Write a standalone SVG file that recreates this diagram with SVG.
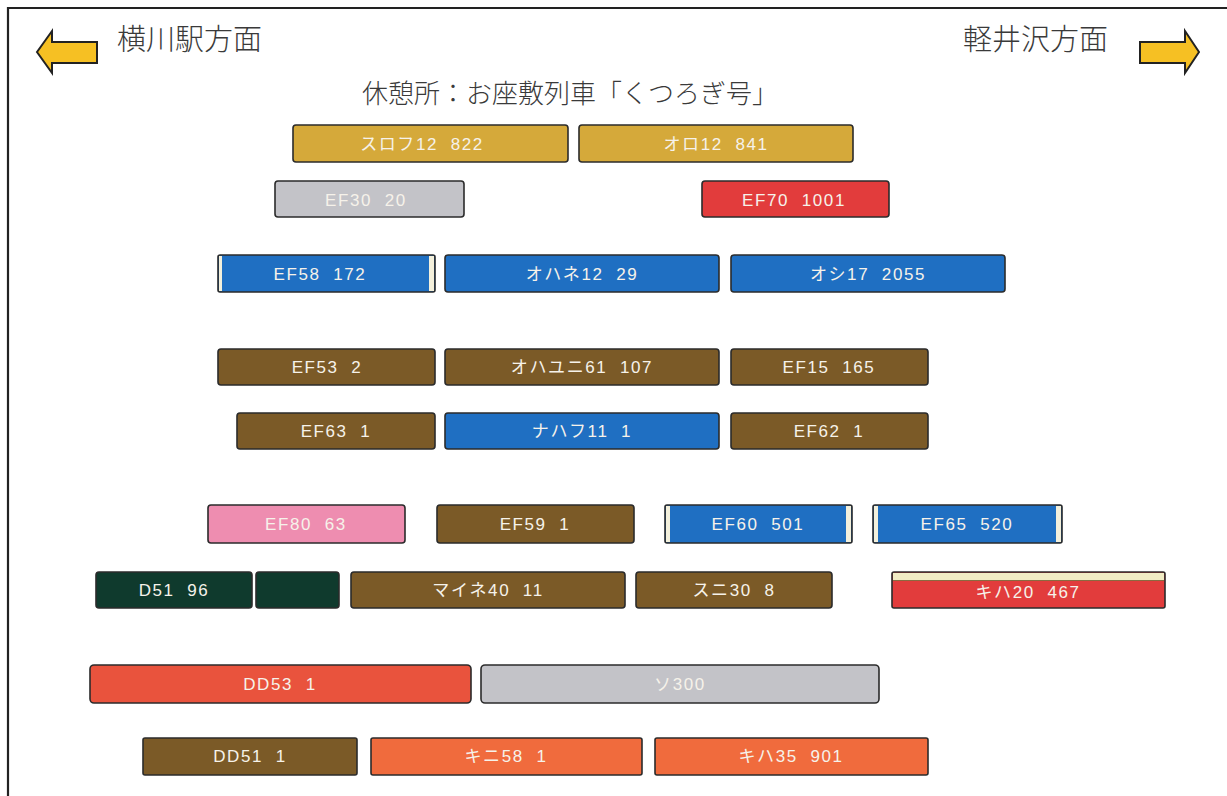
<svg xmlns="http://www.w3.org/2000/svg" width="1227" height="796" viewBox="0 0 1227 796">
<defs>
<style>
.car{stroke:#2b2b2b;stroke-width:1.6}
.lbl{font-family:"Liberation Sans","Noto Sans CJK JP",sans-serif;font-size:17px;fill:#f6f2ea;text-anchor:middle;letter-spacing:1.6px;white-space:pre}
.gold{fill:#d5a93a}.gray{fill:#c3c3c8}.red{fill:#e23c3c}.blue{fill:#1f6fc2}.brown{fill:#7b5a27}
.pink{fill:#ee8db0}.green{fill:#0f3a2d}.orred{fill:#e9533d}.orange{fill:#f06b3d}
.head{font-family:"Liberation Serif","Noto Sans CJK JP",serif;fill:#3a3a3a;font-size:29px;font-weight:300}
.arrow{fill:#f6c023;stroke:#222;stroke-width:2;stroke-linejoin:miter}
.end{fill:#f3f0dc}
</style>
</defs>
<rect width="1227" height="796" fill="#ffffff"/>
<path d="M8 796 V8 H1227" fill="none" stroke="#222" stroke-width="2.2"/>

<g id="arrow-left"><polygon class="arrow" points="37,52 52,31 52,42 97,42 97,63 52,63 52,73"/></g>
<g id="arrow-right"><polygon class="arrow" points="1199,52 1185,31 1185,42 1140,42 1140,63 1185,63 1185,73"/></g>
<text class="head" x="117" y="50">横川駅方面</text>
<text class="head" x="963" y="50">軽井沢方面</text>
<text class="head" x="362" y="103" style="font-size:26px">休憩所：お座敷列車「くつろぎ号」</text>

<g id="connectors"></g>

<!-- row 1 -->
<g id="n-suronfu"><rect class="car gold" x="293" y="125" width="275" height="37" rx="3"/><text class="lbl" x="422" y="150">スロフ12  822</text></g>
<g id="n-oro"><rect class="car gold" x="579" y="125" width="274" height="37" rx="3"/><text class="lbl" x="716" y="150">オロ12  841</text></g>
<!-- row 2 -->
<g id="n-ef30"><rect class="car gray" x="275" y="181" width="189" height="36" rx="3"/><text class="lbl" x="366" y="206">EF30  20</text></g>
<g id="n-ef70"><rect class="car red" x="702" y="181" width="187" height="36" rx="3"/><text class="lbl" x="794" y="206">EF70  1001</text></g>
<!-- row 3 -->
<g id="n-ef58"><rect class="car blue" x="218" y="255" width="217" height="37" rx="2"/><rect class="end" x="219" y="256" width="3" height="35"/><rect class="end" x="429" y="256" width="5" height="35"/><text class="lbl" x="320" y="280">EF58  172</text></g>
<g id="n-ohane"><rect class="car blue" x="445" y="255" width="274" height="37" rx="3"/><text class="lbl" x="582" y="280">オハネ12  29</text></g>
<g id="n-oshi"><rect class="car blue" x="731" y="255" width="274" height="37" rx="3"/><text class="lbl" x="868" y="280">オシ17  2055</text></g>
<!-- row 4 -->
<g id="n-ef53"><rect class="car brown" x="218" y="349" width="217" height="36" rx="3"/><text class="lbl" x="327" y="373">EF53  2</text></g>
<g id="n-ohayuni"><rect class="car brown" x="445" y="349" width="274" height="36" rx="3"/><text class="lbl" x="582" y="373">オハユニ61  107</text></g>
<g id="n-ef15"><rect class="car brown" x="731" y="349" width="197" height="36" rx="3"/><text class="lbl" x="829" y="373">EF15  165</text></g>
<!-- row 5 -->
<g id="n-ef63"><rect class="car brown" x="237" y="413" width="198" height="36" rx="3"/><text class="lbl" x="336" y="437">EF63  1</text></g>
<g id="n-nahafu"><rect class="car blue" x="445" y="413" width="274" height="36" rx="3"/><text class="lbl" x="582" y="437">ナハフ11  1</text></g>
<g id="n-ef62"><rect class="car brown" x="731" y="413" width="197" height="36" rx="3"/><text class="lbl" x="829" y="437">EF62  1</text></g>
<!-- row 6 -->
<g id="n-ef80"><rect class="car pink" x="208" y="505" width="197" height="38" rx="3"/><text class="lbl" x="306" y="530">EF80  63</text></g>
<g id="n-ef59"><rect class="car brown" x="437" y="505" width="197" height="38" rx="3"/><text class="lbl" x="535" y="530">EF59  1</text></g>
<g id="n-ef60"><rect class="car blue" x="665" y="505" width="187" height="38" rx="2"/><rect class="end" x="666" y="506" width="4" height="36"/><rect class="end" x="846" y="506" width="5" height="36"/><text class="lbl" x="758" y="530">EF60  501</text></g>
<g id="n-ef65"><rect class="car blue" x="873" y="505" width="189" height="38" rx="2"/><rect class="end" x="874" y="506" width="4" height="36"/><rect class="end" x="1056" y="506" width="5" height="36"/><text class="lbl" x="967" y="530">EF65  520</text></g>
<!-- row 7 -->
<g id="n-d51"><rect class="car green" x="96" y="572" width="156" height="36" rx="3"/><text class="lbl" x="174" y="596">D51  96</text></g>
<g id="n-d51-tender"><rect class="car green" x="256" y="572" width="83" height="36" rx="3"/></g>
<g id="n-maine"><rect class="car brown" x="351" y="572" width="274" height="36" rx="3"/><text class="lbl" x="488" y="596">マイネ40  11</text></g>
<g id="n-suni"><rect class="car brown" x="636" y="572" width="196" height="36" rx="3"/><text class="lbl" x="734" y="596">スニ30  8</text></g>
<g id="n-kiha20"><rect class="car red" x="892" y="572" width="273" height="36" rx="2"/><rect x="893" y="573" width="271" height="7" fill="#f1ecc4"/><line x1="893" y1="580.5" x2="1164" y2="580.5" stroke="#8a6a40" stroke-width="1"/><text class="lbl" x="1028" y="598">キハ20  467</text></g>
<!-- row 8 -->
<g id="n-dd53"><rect class="car orred" x="90" y="665" width="381" height="38" rx="4"/><text class="lbl" x="280" y="690">DD53  1</text></g>
<g id="n-so300"><rect class="car gray" x="481" y="665" width="398" height="38" rx="4"/><text class="lbl" x="680" y="690">ソ300</text></g>
<!-- row 9 -->
<g id="n-dd51"><rect class="car brown" x="143" y="738" width="214" height="37" rx="2"/><text class="lbl" x="250" y="762">DD51  1</text></g>
<g id="n-kini"><rect class="car orange" x="371" y="738" width="271" height="37" rx="2"/><text class="lbl" x="506" y="762">キニ58  1</text></g>
<g id="n-kiha35"><rect class="car orange" x="655" y="738" width="273" height="37" rx="2"/><text class="lbl" x="791" y="762">キハ35  901</text></g>
</svg>
